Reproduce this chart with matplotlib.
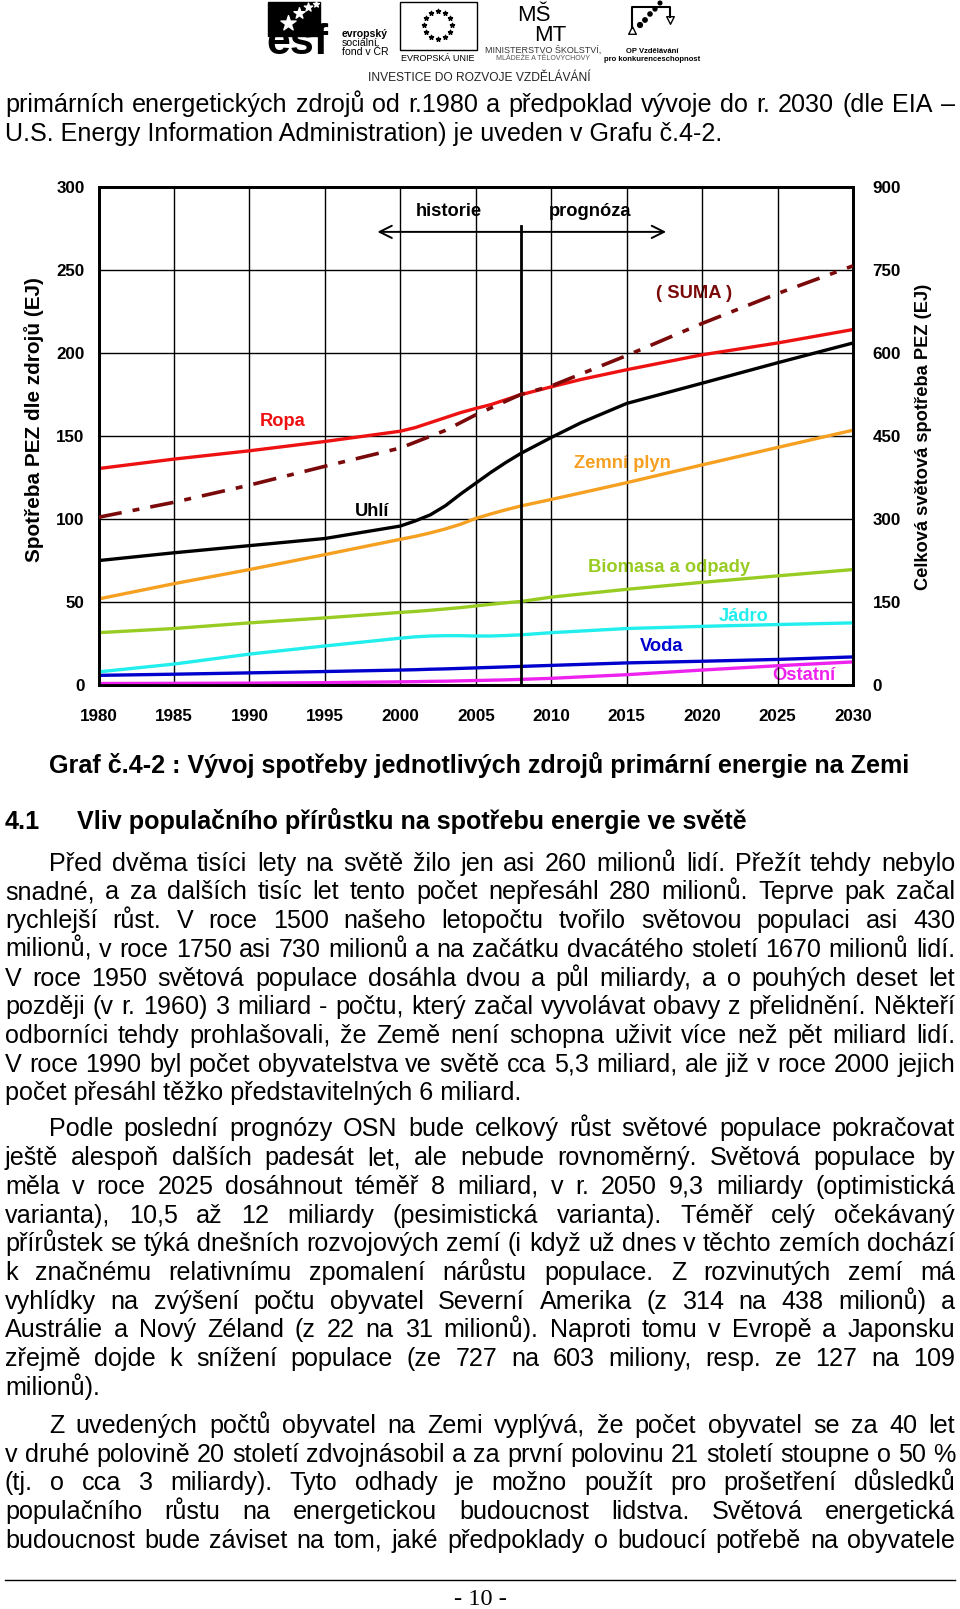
import matplotlib
matplotlib.use('Agg')
import matplotlib.pyplot as plt
from matplotlib.patches import Rectangle
import numpy as np

W, H = 960, 1609
plt.rcParams['font.family'] = ['Liberation Sans', 'DejaVu Sans']
plt.rcParams['lines.scale_dashes'] = False

# data (EJ)
years = [1980, 1985, 1990, 1995, 2000, 2001, 2002, 2003, 2004, 2005, 2006, 2007, 2008,
         2010, 2012, 2015, 2020, 2025, 2030]
ropa = [130.3, 136, 141, 146.6, 152.8, 155, 158, 161, 164, 166.5, 168.8, 171.8, 174.8,
        179.5, 184, 189.8, 198.8, 205.9, 214]
uhli = [74.9, 79.6, 83.9, 88.2, 95.7, 98.8, 102.5, 108, 115, 121.5, 128, 134, 139.5,
        149, 158, 169.5, 181.7, 194, 205.9]
plyn = [51.8, 61, 69.5, 78.5, 87.7, 89.5, 91.6, 94, 96.8, 100.3, 103, 105.5, 107.8,
        111.7, 115.7, 121.8, 132.5, 143, 153.4]
biomasa = [31.5, 34, 37.4, 40.4, 43.7, 44.3, 45, 45.8, 46.6, 47.6, 48.6, 49.5, 50.3,
           52.9, 54.8, 57.6, 61.8, 65.7, 69.5]
jadro = [7.9, 12.6, 18.6, 23.5, 28.2, 29, 29.5, 29.7, 29.7, 29.5, 29.5, 29.8, 30.2,
         31.5, 32.5, 34, 35.3, 36.4, 37.4]
voda = [5.8, 6.5, 7.3, 8.1, 9.0, 9.2, 9.5, 9.7, 10.0, 10.3, 10.6, 10.9, 11.2,
        11.8, 12.4, 13.3, 14.3, 15.4, 16.9]
ostatni = [0.9, 1.0, 1.1, 1.4, 1.9, 2.0, 2.2, 2.3, 2.5, 2.7, 2.9, 3.1, 3.4,
           4.0, 4.9, 6.2, 9.0, 11.6, 13.9]

suma_years = [1980, 1985, 1990, 1995, 2000, 2003, 2005, 2008, 2010, 2015, 2020, 2025, 2030]
suma = [303, 330, 361, 395, 428, 460, 488, 525, 540, 595, 653, 707, 757]

x_ticks = list(range(1980, 2031, 5))
left_ticks = list(range(0, 301, 50))
right_ticks = list(range(0, 901, 150))

series = [
    (ostatni, '#ee22ee', 'Ostatní', 2026.75, 6),
    (voda, '#0000cc', 'Voda', 2017.3, 22.9),
    (jadro, '#22eeee', 'Jádro', 2022.75, 41.3),
    (biomasa, '#99cc22', 'Biomasa a odpady', 2017.8, 71),
    (plyn, '#f5a020', 'Zemní plyn', 2014.7, 133.3),
    (uhli, '#000000', 'Uhlí', 1998.1, 104.2),
    (ropa, '#ee1111', 'Ropa', 1992.2, 158.4),
]

fig = plt.figure(figsize=(W / 100, H / 100), dpi=100)
r = fig.canvas.get_renderer()

bg = fig.add_axes([0, 0, 1, 1])
bg.set_xlim(0, W)
bg.set_ylim(H, 0)
bg.axis('off')


def tw(s, size, weight='normal', family='Liberation Sans'):
    t = fig.text(0, 0, s, fontsize=size, fontweight=weight, family=family)
    w = t.get_window_extent(renderer=r).width
    t.remove()
    return w


def fit(s, target, weight='normal', family='Liberation Sans'):
    return 10 * target / tw(s, 10, weight, family)


def put(s, x0, yb, fs, weight='normal', x1=None):
    if x1 is None:
        bg.text(x0, yb, s, fontsize=fs, fontweight=weight, va='baseline', ha='left')
        return
    words = s.split()
    widths = [tw(w, fs, weight) for w in words]
    gap = (x1 - x0 - sum(widths)) / (len(words) - 1)
    x = x0
    for w, wd in zip(words, widths):
        bg.text(x, yb, w, fontsize=fs, fontweight=weight, va='baseline', ha='left')
        x += wd + gap


# ---- header logos
bg.add_patch(Rectangle((268, 2), 52, 34, color='black'))
for (sx, sy, ss) in [(288, 23, 130), (299, 13, 70), (308, 7, 40), (316, 4, 20)]:
    bg.scatter(sx, sy, s=ss, marker='*', color='white', zorder=5)
bg.text(266, 54, 'esf', fontsize=31, fontweight='bold', va='baseline', ha='left')
efs = fit('evropský', 46, 'bold')
bg.text(342, 37, 'evropský', fontsize=efs, fontweight='bold', va='baseline')
bg.text(342, 46, 'sociální', fontsize=efs, va='baseline')
bg.text(342, 55, 'fond v ČR', fontsize=efs, va='baseline')

bg.add_patch(Rectangle((400, 2), 77, 48, fill=False, edgecolor='black', lw=1))
ang = np.arange(12) * np.pi / 6
bg.scatter(438 + 14 * np.cos(ang), 25 + 14 * np.sin(ang), s=10, marker='*', color='black')
bg.text(438, 61, 'EVROPSKÁ UNIE', fontsize=6.5, ha='center', va='baseline')

bg.text(534, 21, 'MŠ', fontsize=16, ha='center', va='baseline', color='black')
bg.text(550, 41, 'MT', fontsize=16, ha='center', va='baseline', color='black')
bg.text(543, 53, 'MINISTERSTVO ŠKOLSTVÍ,', fontsize=6.5, ha='center', va='baseline', color='#333333')
bg.text(543, 60, 'MLÁDEŽE A TĚLOVÝCHOVY', fontsize=5, ha='center', va='baseline', color='#555555')

bg.plot([632, 632, 670, 670], [28, 7, 7, 17], color='black', lw=1.5)
bg.scatter([670], [20], s=30, marker='v', facecolor='white', edgecolor='black')
bg.scatter([632], [30], s=30, marker='^', facecolor='white', edgecolor='black')
bg.scatter([640, 645, 650, 655, 660], [25, 20, 14, 9, 3], s=[12, 10, 9, 8, 7], color='black')
bg.text(652, 53, 'OP Vzdělávání', fontsize=5.5, fontweight='bold', ha='center', va='baseline')
bg.text(652, 61, 'pro konkurenceschopnost', fontsize=5.5, fontweight='bold', ha='center', va='baseline')

inv = 'INVESTICE DO ROZVOJE VZDĚLÁVÁNÍ'
bg.text(479, 81, inv, fontsize=fit(inv, 222), ha='center', va='baseline', color='#222222')

# ---- body text
fs = fit('počet přesáhl těžko představitelných 6 miliard.', 516)
L, R, IND = 5, 955, 49

put('primárních energetických zdrojů od r.1980 a předpoklad vývoje do r. 2030 (dle EIA –', L, 112, fs, x1=R)
put('U.S. Energy Information Administration) je uveden v Grafu č.4-2.', L, 140.5, fs)

cap = 'Graf č.4-2 : Vývoj spotřeby jednotlivých zdrojů primární energie na Zemi'
put(cap, 49, 773, fit(cap, 862, 'bold'), 'bold')
head = 'Vliv populačního přírůstku na spotřebu energie ve světě'
hfs = fit(head, 673, 'bold')
put('4.1', L, 829, hfs, 'bold')
put(head, 77, 829, hfs, 'bold')

paragraphs = [
    (870.7, [
        'Před dvěma tisíci lety na světě žilo jen asi 260 milionů lidí. Přežít tehdy nebylo',
        'snadné, a za dalších tisíc let tento počet nepřesáhl 280 milionů. Teprve pak začal',
        'rychlejší růst. V roce 1500 našeho letopočtu tvořilo světovou populaci asi 430',
        'milionů, v roce 1750 asi 730 milionů a na začátku dvacátého století 1670 milionů lidí.',
        'V roce 1950 světová populace dosáhla dvou a půl miliardy, a o pouhých deset let',
        'později (v r. 1960) 3 miliard - počtu, který začal vyvolávat obavy z přelidnění. Někteří',
        'odborníci tehdy prohlašovali, že Země není schopna uživit více než pět miliard lidí.',
        'V roce 1990 byl počet obyvatelstva ve světě cca 5,3 miliard, ale již v roce 2000 jejich',
        'počet přesáhl těžko představitelných 6 miliard.',
    ]),
    (1136.4, [
        'Podle poslední prognózy OSN bude celkový růst světové populace pokračovat',
        'ještě alespoň dalších padesát let, ale nebude rovnoměrný. Světová populace by',
        'měla v roce 2025 dosáhnout téměř 8 miliard, v r. 2050 9,3 miliardy (optimistická',
        'varianta), 10,5 až 12 miliardy (pesimistická varianta). Téměř celý očekávaný',
        'přírůstek se týká dnešních rozvojových zemí (i když už dnes v těchto zemích dochází',
        'k značnému relativnímu zpomalení nárůstu populace. Z rozvinutých zemí má',
        'vyhlídky na zvýšení počtu obyvatel Severní Amerika (z 314 na 438 milionů) a',
        'Austrálie a Nový Zéland (z 22 na 31 milionů). Naproti tomu v Evropě a Japonsku',
        'zřejmě dojde k snížení populace (ze 727 na 603 miliony, resp. ze 127 na 109',
        'milionů).',
    ]),
    (1432.8, [
        'Z uvedených počtů obyvatel na Zemi vyplývá, že počet obyvatel se za 40 let',
        'v druhé polovině 20 století zdvojnásobil a za první polovinu 21 století stoupne o 50 %',
        '(tj. o cca 3 miliardy). Tyto odhady je možno použít pro prošetření důsledků',
        'populačního růstu na energetickou budoucnost lidstva. Světová energetická',
        'budoucnost bude záviset na tom, jaké předpoklady o budoucí potřebě na obyvatele',
    ]),
]
step = 28.72
for top, lines in paragraphs:
    for i, s in enumerate(lines):
        x0 = IND if i == 0 else L
        last = (i == len(lines) - 1) and not s.startswith('budoucnost')
        put(s, x0, top + i * step, fs, x1=None if last else R)

# footer
bg.plot([5, 955], [1580, 1580], color='black', lw=1)
bg.text(480, 1605, '- 10 -', fontsize=fit('- 10 -', 53, family='Liberation Serif'),
        family='Liberation Serif', ha='center', va='baseline')

# ---- chart
ax = fig.add_axes([98.5 / W, 1 - 685 / H, (853 - 98.5) / W, (685 - 186.7) / H])
ax.set_xlim(1980, 2030)
ax.set_ylim(0, 300)
ax.set_xticks(x_ticks)
ax.set_yticks(left_ticks)
ax.grid(True, color='black', lw=1)
ax.set_axisbelow(False)
for sp in ax.spines.values():
    sp.set_linewidth(2)

tfs = fit('1980', 38, 'bold')
ax.tick_params(axis='both', length=0, labelsize=tfs)
ax.tick_params(axis='x', pad=17)
ax.tick_params(axis='y', pad=10)
for lab in ax.get_xticklabels() + ax.get_yticklabels():
    lab.set_fontweight('bold')

lfs = fit('Biomasa a odpady', 162, 'bold')
for vals, col, name, lx, ly in series:
    ax.plot(years, vals, color=col, lw=2.4, zorder=3, solid_capstyle='butt',
            solid_joinstyle='round')
    ax.text(lx, ly, name, color=col, fontsize=lfs, fontweight='bold', ha='center', va='center', zorder=1)

ax.plot([2008, 2008], [0, 276.5], color='black', lw=2, zorder=3)
ax.annotate('', xy=(1998.3, 272.8), xytext=(2017.8, 272.8),
            arrowprops=dict(arrowstyle='<->', lw=1.4, mutation_scale=22, color='black'), zorder=3)
ax.text(2003.2, 284.8, 'historie', fontsize=lfs, fontweight='bold', ha='center', va='center', zorder=1)
ax.text(2012.6, 284.8, 'prognóza', fontsize=lfs, fontweight='bold', ha='center', va='center', zorder=1)
ax.text(2019.5, 235.7, '( SUMA )', color='#7a0a0a', fontsize=lfs, fontweight='bold',
        ha='center', va='center', zorder=1)

ax2 = ax.twinx()
ax2.set_ylim(0, 900)
ax2.set_yticks(right_ticks)
ax2.tick_params(axis='y', length=0, labelsize=tfs, pad=14)
for lab in ax2.get_yticklabels():
    lab.set_fontweight('bold')
for sp in ax2.spines.values():
    sp.set_linewidth(2)
ax2.plot(suma_years, suma, color='#7a0a0a', lw=2.6, dashes=(17, 8, 5, 8), zorder=3)

yl = 'Spotřeba PEZ dle zdrojů (EJ)'
bg.text(34, 419.5, yl, rotation=90, fontsize=fit(yl, 285, 'bold'), fontweight='bold',
        ha='center', va='center')
yr = 'Celková světová spotřeba PEZ (EJ)'
bg.text(924, 437, yr, rotation=90, fontsize=fit(yr, 306, 'bold'), fontweight='bold',
        ha='center', va='center')

fig.savefig('out.png', dpi=100)
